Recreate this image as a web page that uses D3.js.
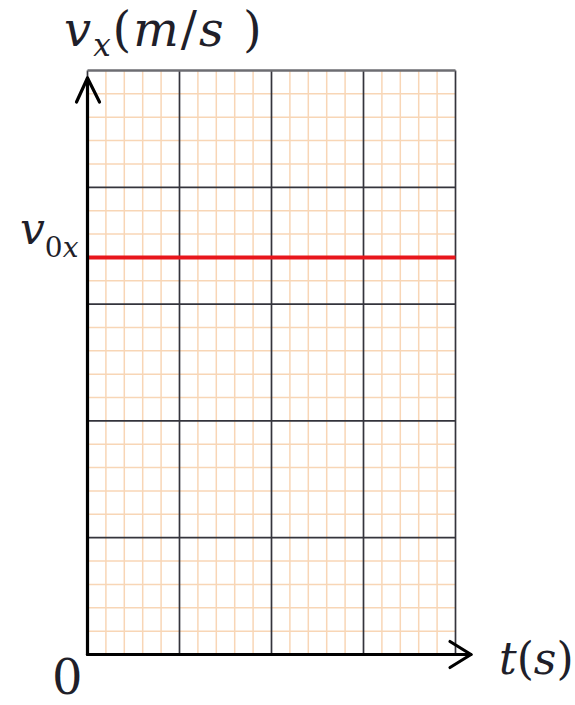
<!DOCTYPE html>
<html>
<head>
<meta charset="utf-8">
<script src="https://cdn.jsdelivr.net/npm/d3@7"></script>
<style>
  html, body { margin: 0; padding: 0; background: #fff; }
  svg { display: block; }
  text { font-family: "DejaVu Serif", "Liberation Serif", serif; fill: #1f1f2a; }
</style>
</head>
<body>
<svg id="chart" width="575" height="705"></svg>
<script>
// Graph-paper velocity–time plot: constant velocity v0x over time.
const timeDomain = [0, 20];          // horizontal extent in minor-grid units
const velocityDomain = [0, 25];      // vertical extent in minor-grid units
const minorStep = 1;                 // fine orange grid spacing
const majorStep = 5;                 // dark grid spacing
const lineTimes = [0, 20];           // the constant-velocity line spans the grid
const v0x = 17;                      // constant velocity level

const svg = d3.select("#chart");

const x = d3.scaleLinear().domain(timeDomain).range([87.5, 455.5]);
const y = d3.scaleLinear().domain(velocityDomain).range([654.5, 70.5]);

const minorX = d3.range(timeDomain[0], timeDomain[1] + 0.001, minorStep).filter(v => v % majorStep !== 0);
const minorY = d3.range(velocityDomain[0], velocityDomain[1] + 0.001, minorStep).filter(v => v % majorStep !== 0);
const majorX = d3.range(timeDomain[0], timeDomain[1] + 0.001, majorStep);
const majorY = d3.range(velocityDomain[0], velocityDomain[1] + 0.001, majorStep);

const grid = svg.append("g");

// fine orange grid
grid.selectAll(".minor-v").data(minorX).join("line")
  .attr("x1", d => x(d)).attr("x2", d => x(d))
  .attr("y1", y(velocityDomain[0])).attr("y2", y(velocityDomain[1]))
  .attr("stroke", "#f8d6b6").attr("stroke-width", 1.5);
grid.selectAll(".minor-h").data(minorY).join("line")
  .attr("y1", d => y(d)).attr("y2", d => y(d))
  .attr("x1", x(timeDomain[0])).attr("x2", x(timeDomain[1]))
  .attr("stroke", "#f8d6b6").attr("stroke-width", 1.5);

// dark major grid
grid.selectAll(".major-v").data(majorX).join("line")
  .attr("x1", d => x(d)).attr("x2", d => x(d))
  .attr("y1", y(velocityDomain[0])).attr("y2", y(velocityDomain[1]))
  .attr("stroke", "#34343c").attr("stroke-width", 1.7);
grid.selectAll(".major-h").data(majorY).join("line")
  .attr("y1", d => y(d)).attr("y2", d => y(d))
  .attr("x1", x(timeDomain[0])).attr("x2", x(timeDomain[1]))
  .attr("stroke", d => d === velocityDomain[1] ? "#6d6d72" : "#34343c")
  .attr("stroke-width", d => d === velocityDomain[1] ? 2.4 : 1.7);

// constant velocity line
const line = d3.line().x(d => x(d[0])).y(d => y(d[1]));
svg.append("path")
  .datum(lineTimes.map(t => [t, v0x]))
  .attr("d", line)
  .attr("fill", "none")
  .attr("stroke", "#e8161c")
  .attr("stroke-width", 4);

// axes with open arrowheads
const axes = svg.append("g").attr("stroke", "#000").attr("fill", "none")
  .attr("stroke-width", 3.2).attr("stroke-linecap", "round").attr("stroke-linejoin", "round");
const x0 = x(timeDomain[0]), y0 = y(velocityDomain[0]);
// vertical axis
axes.append("line").attr("x1", x0).attr("y1", y0).attr("x2", x0).attr("y2", 78);
axes.append("path").attr("d", `M${x0 - 11},102 L${x0},78 L${x0 + 12},102`);
// horizontal axis
axes.append("line").attr("x1", x0).attr("y1", y0).attr("x2", 471).attr("y2", y0);
axes.append("path").attr("d", `M450,${y0 - 13} L471,${y0} L450,${y0 + 13}`);

// labels
const yLabel = svg.append("text").attr("x", 64).attr("y", 46)
  .attr("font-size", 48).attr("letter-spacing", 2);
yLabel.append("tspan").attr("font-style", "italic").text("v");
yLabel.append("tspan").attr("font-style", "italic").attr("font-size", 31).attr("dy", 10).text("x");
yLabel.append("tspan").attr("dy", -10).text("(");
yLabel.append("tspan").attr("font-style", "italic").text("m");
yLabel.append("tspan").text("/");
yLabel.append("tspan").attr("font-style", "italic").text("s");
yLabel.append("tspan").text(" )");

const v0Label = svg.append("text").attr("x", 20).attr("y", 244).attr("font-size", 44);
v0Label.append("tspan").attr("font-style", "italic").text("v");
v0Label.append("tspan").attr("font-size", 28).attr("dy", 13).text("0");
v0Label.append("tspan").attr("font-size", 28).attr("font-style", "italic").text("x");

svg.append("text").attr("x", 52).attr("y", 694)
  .attr("font-family", "Liberation Serif").attr("font-size", 48).text("0");

const tLabel = svg.append("text").attr("x", 499).attr("y", 674).attr("font-size", 44);
tLabel.append("tspan").attr("font-style", "italic").text("t");
tLabel.append("tspan").text("(");
tLabel.append("tspan").attr("font-style", "italic").text("s");
tLabel.append("tspan").text(")");
</script>
</body>
</html>
